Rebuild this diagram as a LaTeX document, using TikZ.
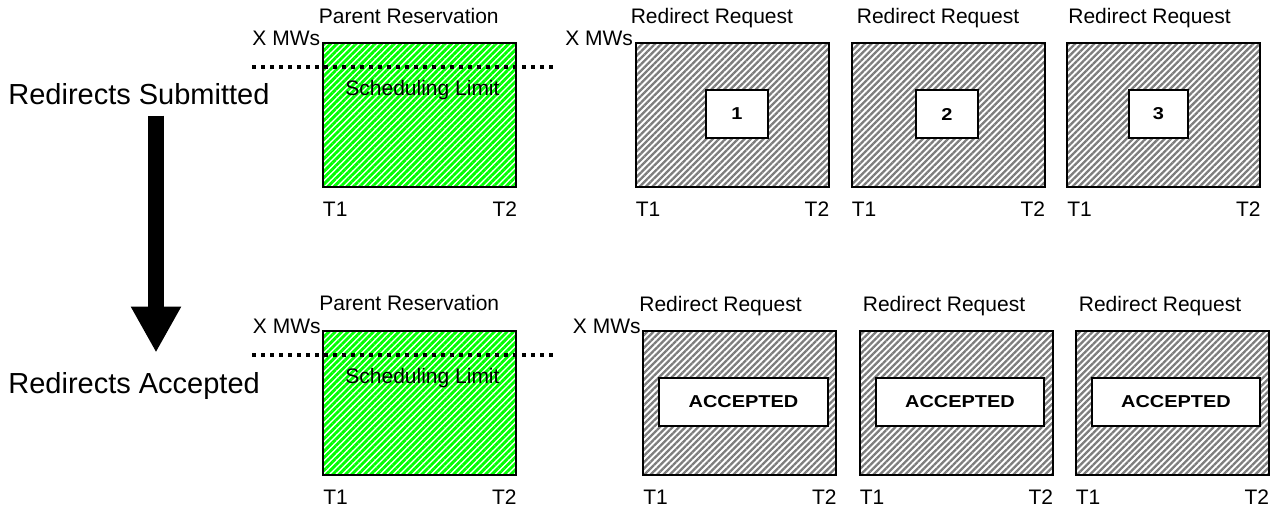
\documentclass[tikz,border=0pt]{standalone}
\usepackage{fontspec}
\setmainfont{Liberation Sans}
\newfontfamily\fuenteancha[FakeStretch=1.16]{Liberation Sans}
\usetikzlibrary{arrows.meta,patterns.meta,calc}
\definecolor{verde}{RGB}{0,255,0}
\definecolor{gris}{RGB}{125,125,125}
\tikzset{
  caja/.style={draw, line width=1pt, inner sep=0pt, minimum height=72pt},
  padre/.style={caja, minimum width=96.5pt,
    pattern={Lines[angle=45,distance=2.25pt,line width=1.45pt]}, pattern color=verde},
  redir/.style={caja, minimum width=96.5pt,
    pattern={Lines[angle=45,distance=2.25pt,line width=1.15pt]}, pattern color=gris},
  marca/.style={draw, fill=white, line width=1pt, inner sep=0pt, minimum height=24pt,
    font=\fuenteancha\bfseries\fontsize{8.6}{10}\selectfont},
  etiq/.style={inner sep=0pt, font=\fontsize{10.5}{12}\selectfont},
  titulo/.style={inner sep=0pt, font=\fontsize{14.5}{17}\selectfont},
  limite/.style={line width=2.3pt, dash pattern=on 2.2pt off 2.3pt},
}
\begin{document}
\begin{tikzpicture}[x=0.5pt,y=-0.5pt]
            \fill[white] (0,0) rectangle (1270,508);
            \useasboundingbox (0,0) rectangle (1270,508);
            % cajas de arriba
            \node[padre] (padreA) at (419.5,115) {};
            \node[redir] (redA1) at (732,115) {};
            \node[redir] (redA2) at (948,115) {};
            \node[redir] (redA3) at (1163.5,115) {};
            \node[marca, minimum width=31pt] (numA1) at (737,114) {1};
            \node[marca, minimum width=31pt] (numA2) at (947,114) {2};
            \node[marca, minimum width=29.5pt] (numA3) at (1158.5,114) {3};
            % cajas de abajo
            \node[padre] (padreB) at (419.5,402.5) {};
            \node[redir] (redB1) at (739.5,402.5) {};
            \node[redir] (redB2) at (956,402.5) {};
            \node[redir] (redB3) at (1172,402.5) {};
            \node[marca, minimum width=84.5pt] (okB1) at (743.5,402) {ACCEPTED};
            \node[marca, minimum width=84pt] (okB2) at (960,402) {ACCEPTED};
            \node[marca, minimum width=84pt] (okB3) at (1176,402) {ACCEPTED};
            % limite de programacion
            \coordinate (limA1) at (252,67);
            \coordinate (limA2) at (557,67);
            \coordinate (limB1) at (252,355);
            \coordinate (limB2) at (557,355);
            \draw[limite] (limA1) -- (limA2);
            \draw[limite] (limB1) -- (limB2);
            \node[etiq, anchor=base] (limiteA) at ($(padreA.north)+(3,54)$) {Scheduling Limit};
            \node[etiq, anchor=base] (limiteB) at ($(padreB.north)+(3,54)$) {Scheduling Limit};
            % titulos de las cajas
            \node[etiq, anchor=base west] (tpA) at ($(padreA.north west)+(-3,-18)$) {Parent Reservation};
            \node[etiq, anchor=base west] (tpB) at ($(padreB.north west)+(-3,-19)$) {Parent Reservation};
            \foreach \c/\d in {redA1/-4,redA2/6,redA3/2,redB1/-3,redB2/4,redB3/4}
            \node[etiq, anchor=base west] (t\c) at ($(\c.north west)+(\d,-18)$) {Redirect Request};
            % ejes de tiempo
            \foreach \c in {padreA,redA1,redA2,redA3,padreB,redB1,redB2,redB3} {
            \node[etiq, anchor=base west] (ti\c) at ($(\c.south west)+(1,28.5)$) {T1};
            \node[etiq, anchor=base east] (tf\c) at ($(\c.south east)+(0,28.5)$) {T2};
            }
            \foreach \c in {padreA,redA1,padreB,redB1}
            \node[etiq, anchor=base east] (mw\c) at ($(\c.north west)+(-1,4)$) {X MWs};
            % flecha de la izquierda
            \node[titulo, anchor=base west] (enviadas) at (8,105) {Redirects Submitted};
            \node[titulo, anchor=base west] (aceptadas) at (8,393) {Redirects Accepted};
            \coordinate (flecha) at (156,0);
            \draw[line width=8pt, -{Triangle[length=23pt,width=23.5pt]}, shorten <=5pt, shorten >=9.5pt]
            (enviadas.south -| flecha) -- (aceptadas.north -| flecha);
\end{tikzpicture}
\end{document}
